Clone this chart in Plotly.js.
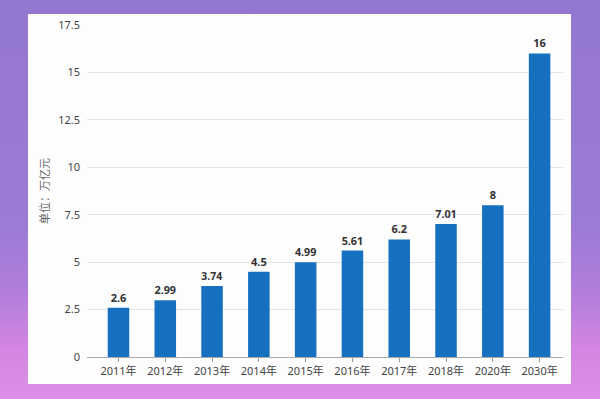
<!DOCTYPE html>
<html><head><meta charset="utf-8">
<script src="https://cdn.plot.ly/plotly-3.0.1.min.js"></script>
<style>
html,body{margin:0;padding:0;}
body{width:600px;height:399px;overflow:hidden;
background:linear-gradient(180deg,#9477d1 0%,#9a7bd6 55%,#b07ddc 72%,#d486e2 88%,#dc8fe6 100%);}
#chart{width:600px;height:399px;}
</style></head>
<body><div id="chart"></div>
<script>
const categories = ['2011年','2012年','2013年','2014年','2015年','2016年','2017年','2018年','2020年','2030年'];
const values = [2.6, 2.99, 3.74, 4.5, 4.99, 5.61, 6.2, 7.01, 8, 16];
const labels = ['2.6','2.99','3.74','4.5','4.99','5.61','6.2','7.01','8','16'];
const yTicks = [0, 2.5, 5, 7.5, 10, 12.5, 15, 17.5];
const yTickText = ['0','2.5','5','7.5','10','12.5','15','17.5'];

const font = 'Noto Sans, Noto Sans CJK SC, sans-serif';
Plotly.newPlot('chart', [{
  type: 'bar',
  x: categories,
  y: values,
  text: labels,
  textposition: 'outside',
  texttemplate: '<b>%{text}</b>',
  textfont: {family: font, size: 11, color: '#333'},
  cliponaxis: false,
  marker: {color: '#1670c0'},
  width: 0.46,
  hoverinfo: 'none'
}], {
  width: 600, height: 399,
  margin: {l: 87, r: 37, t: 25, b: 42},
  paper_bgcolor: 'rgba(0,0,0,0)',
  plot_bgcolor: 'rgba(0,0,0,0)',
  showlegend: false,
  font: {family: font, color: '#444'},
  shapes: [{
    type: 'rect', xref: 'paper', yref: 'paper', layer: 'below',
    x0: -0.124, x1: 1.0168, y0: -0.0813, y1: 1.033,
    fillcolor: '#fdfdfe', line: {width: 0}
  }],
  xaxis: {
    type: 'category',
    range: [-0.673, 9.5],
    tickfont: {family: font, size: 11, color: '#444'},
    ticks: 'outside', ticklen: 4, tickcolor: '#999',
    showline: true, linecolor: '#aaa', linewidth: 1,
    showgrid: false, automargin: false
  },
  yaxis: {
    range: [0, 17.5],
    tickvals: yTicks, ticktext: yTickText,
    tickfont: {family: font, size: 11, color: '#444'},
    showgrid: true, gridcolor: '#e3e3e6', gridwidth: 1,
    zeroline: false, showline: false, ticks: '',
    ticklabelstandoff: 6,
    automargin: false,
    title: {text: '单位：万亿元', font: {family: font, size: 11, color: '#666'}, standoff: 6}
  }
}, {staticPlot: true});
</script></body></html>
